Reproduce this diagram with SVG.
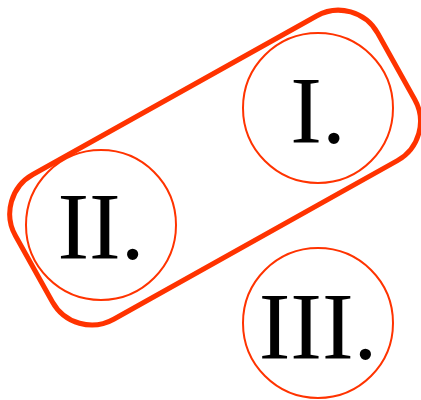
<svg xmlns="http://www.w3.org/2000/svg" width="421" height="400" viewBox="0 0 421 400">
<style>
.c{fill:none;stroke:#ff3300;stroke-width:2}
.g{fill:none;stroke:#ff3300;stroke-width:5}
.t{font-family:"Liberation Serif","Times New Roman",serif;font-size:95px;fill:#000;text-anchor:middle}
</style>
<g id="connectors"></g>
<g id="group"><rect class="g" x="-207.5" y="-82.9" width="415" height="165.8" rx="45" transform="translate(215.1,167.6) rotate(-29.2)"/></g>
<g id="n1"><circle class="c" cx="318" cy="108" r="75"/><text class="t" x="318" y="143">I.</text></g>
<g id="n2"><circle class="c" cx="101" cy="225" r="75"/><text class="t" x="101" y="259">II.</text></g>
<g id="n3"><circle class="c" cx="318" cy="323" r="75"/><text class="t" x="318" y="359">III.</text></g>
</svg>
